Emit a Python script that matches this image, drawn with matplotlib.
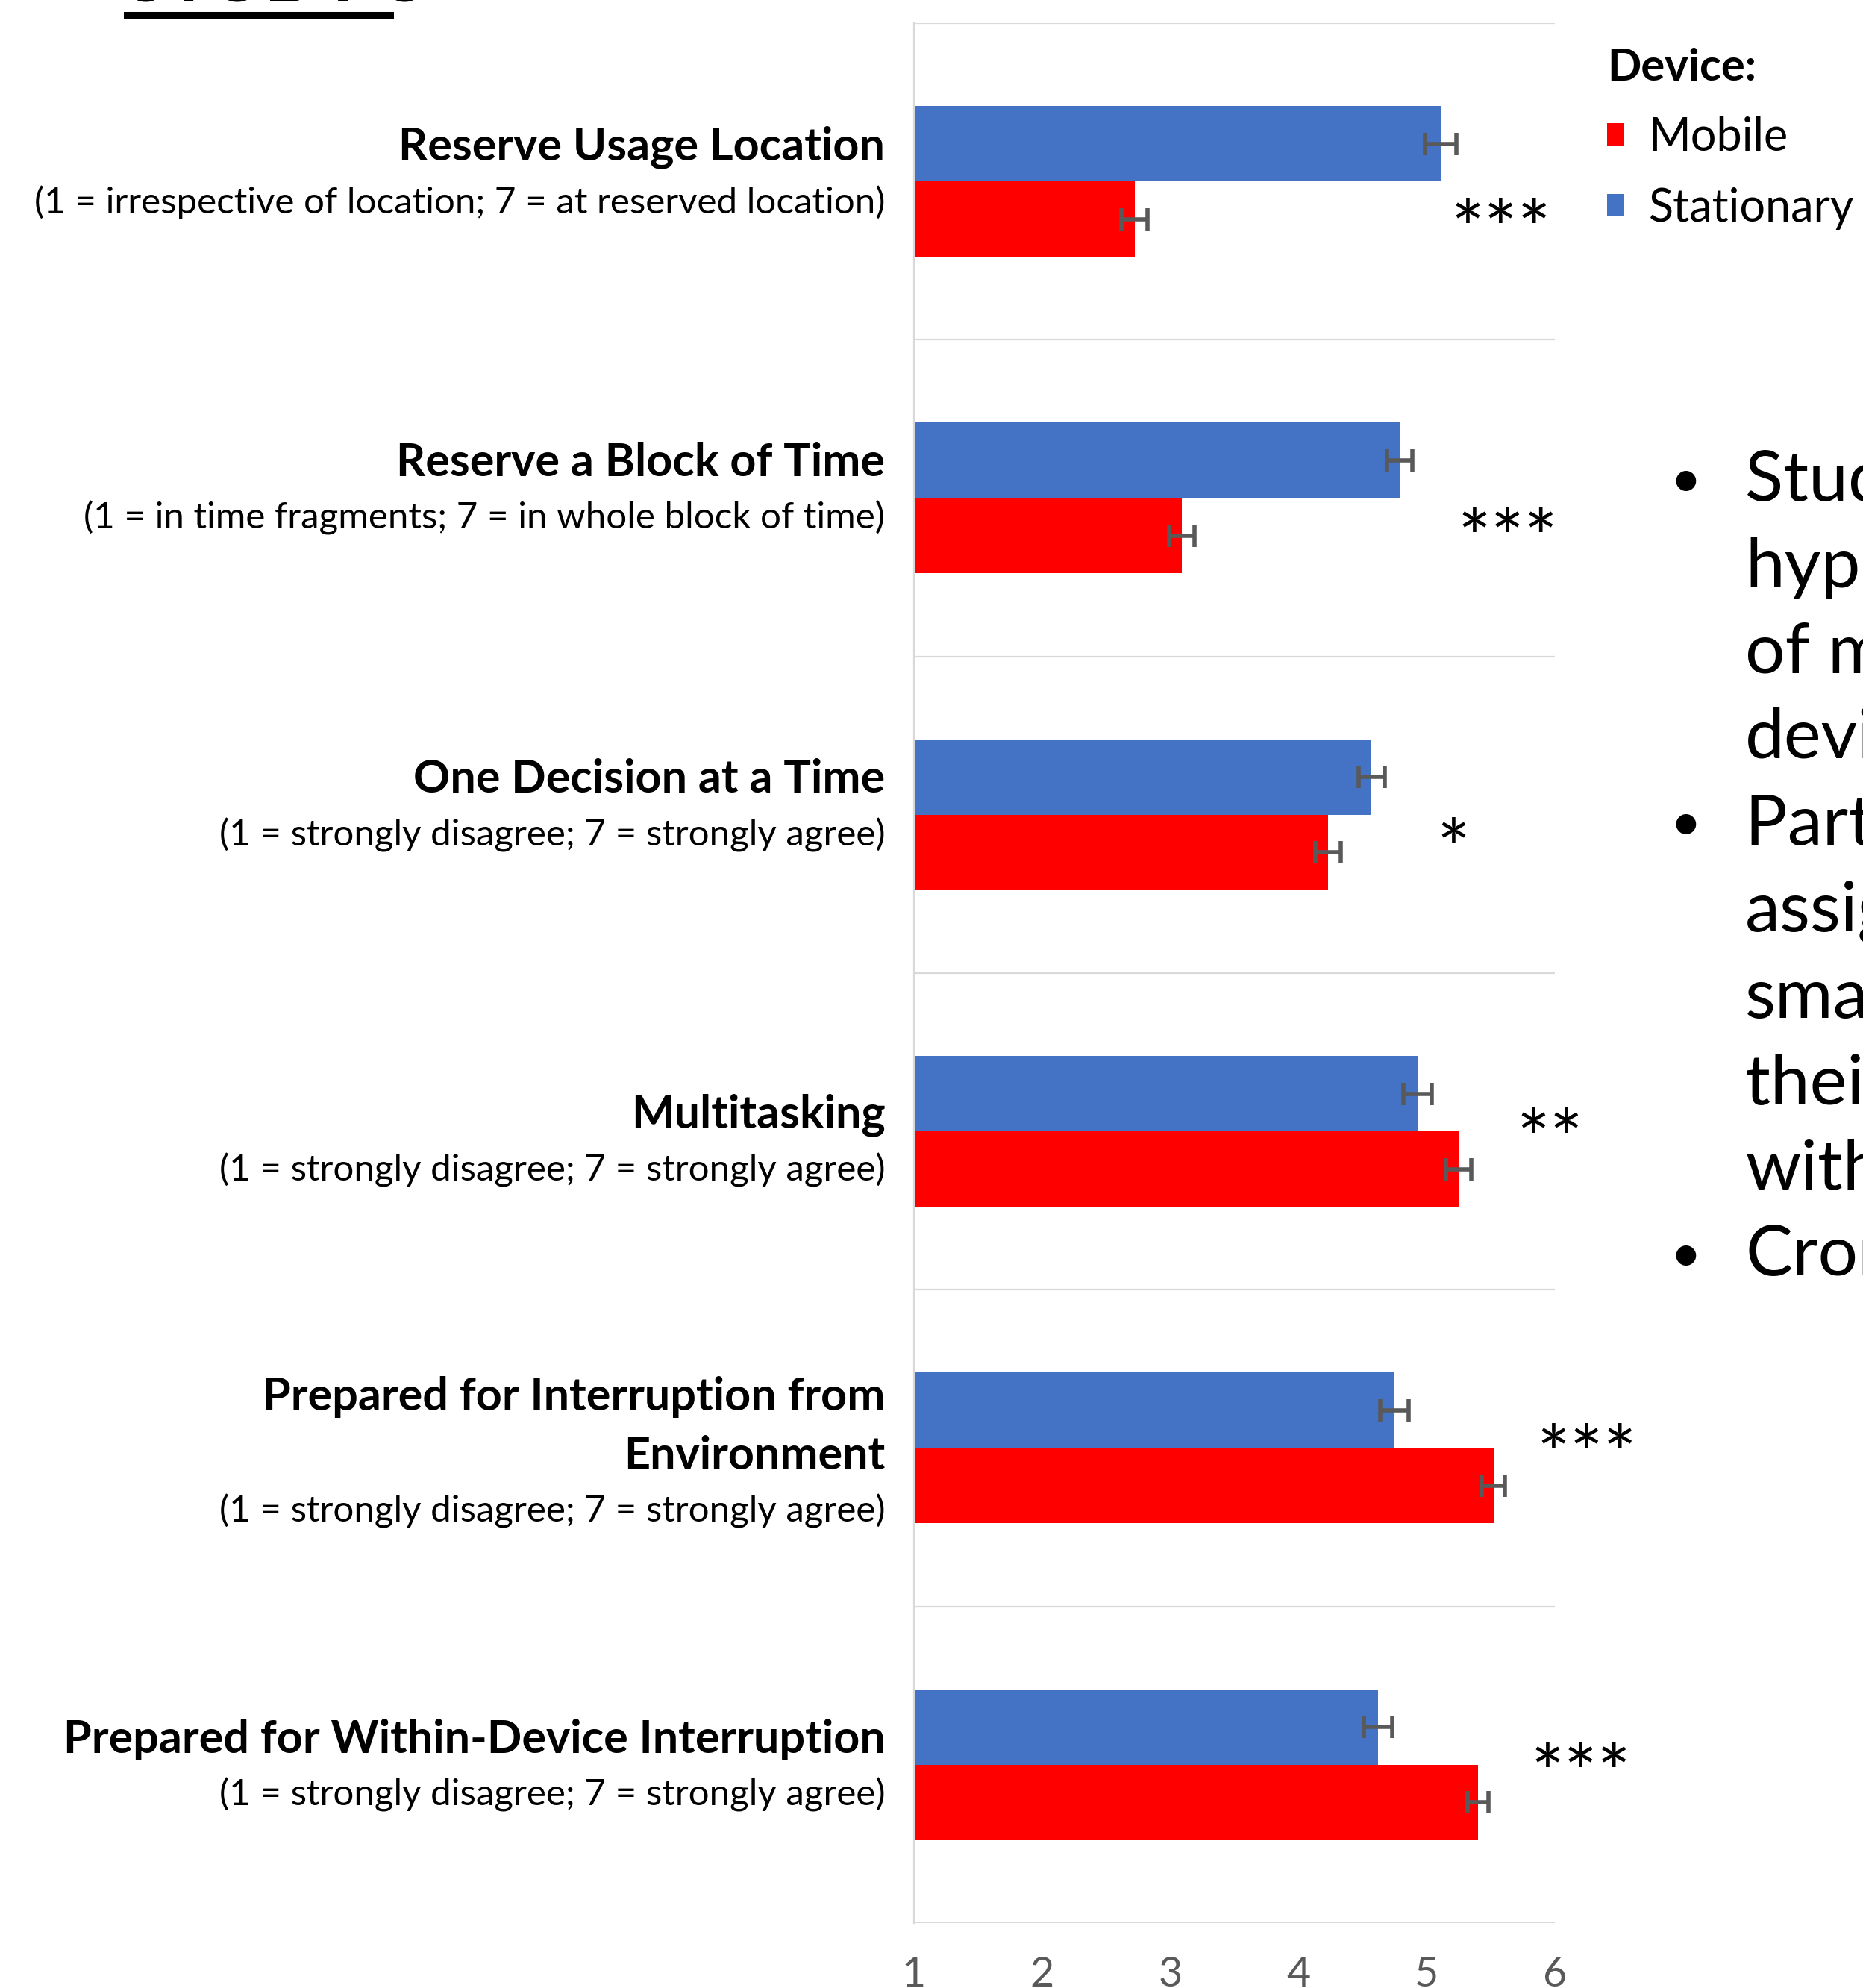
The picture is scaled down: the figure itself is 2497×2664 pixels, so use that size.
import numpy as np
import matplotlib.pyplot as plt
from matplotlib.lines import Line2D

plt.rcParams['font.family'] = ['Lato', 'DejaVu Sans']

# Data
titles = ['Reserve Usage Location', 'Reserve a Block of Time', 'One Decision at a Time',
          'Multitasking', 'Prepared for Interruption from\nEnvironment',
          'Prepared for Within-Device Interruption']
subtitles = ['(1 = irrespective of location; 7 = at reserved location)',
             '(1 = in time fragments; 7 = in whole block of time)',
             '(1 = strongly disagree; 7 = strongly agree)',
             '(1 = strongly disagree; 7 = strongly agree)',
             '(1 = strongly disagree; 7 = strongly agree)',
             '(1 = strongly disagree; 7 = strongly agree)']
mobile = [2.72, 3.09, 4.23, 5.25, 5.52, 5.40]
mobile_err = [0.10, 0.10, 0.10, 0.10, 0.09, 0.08]
stationary = [5.11, 4.79, 4.57, 4.93, 4.75, 4.62]
stationary_err = [0.12, 0.10, 0.10, 0.11, 0.11, 0.11]
stars = ['***', '***', '*', '**', '***', '***']
xticks = [1, 2, 3, 4, 5, 6]

# layout of the annotations
star_x = [5.19, 5.24, 5.08, 5.70, 5.86, 5.81]
star_dy = [0.17, 0.146, 0.126, 0.042, 0.038, 0.046]
label_dy = [-0.108, -0.112, -0.112, -0.052, -0.16, -0.08]

red = '#ff0000'
blue = '#4472c4'
grey = '#595959'

fig = plt.figure(figsize=(24.97, 26.64), dpi=100)
ax = fig.add_axes([0.4906, 0.0327, 0.344, 0.9557])

y = np.arange(len(titles))
h = 0.238
b_st = ax.barh(y - h / 2, np.array(stationary) - 1, left=1, height=h, color=blue)
b_mo = ax.barh(y + h / 2, np.array(mobile) - 1, left=1, height=h, color=red)
ax.errorbar(stationary, y - h / 2, xerr=stationary_err, fmt='none', ecolor=grey,
            elinewidth=4, capsize=11, capthick=4)
ax.errorbar(mobile, y + h / 2, xerr=mobile_err, fmt='none', ecolor=grey,
            elinewidth=4, capsize=11, capthick=4)

ax.set_xlim(1, 6)
ax.set_ylim(len(titles) - 0.5, -0.5)
ax.set_xticks(xticks)
ax.set_xticklabels([str(t) for t in xticks], fontsize=40, color=grey)
ax.tick_params(axis='x', length=0, pad=32)
ax.set_yticks([])
ax.set_yticks(np.arange(len(titles) + 1) - 0.5, minor=True)
ax.tick_params(axis='y', which='minor', length=0)
ax.grid(axis='y', which='minor', color='#d9d9d9', linewidth=1.6)
ax.set_axisbelow(True)
for s in ['top', 'right', 'bottom']:
    ax.spines[s].set_visible(False)
ax.spines['left'].set_color('#d9d9d9')
ax.spines['left'].set_linewidth(1.6)

# category labels
trans = ax.get_yaxis_transform()
for i in range(len(titles)):
    yy = i + label_dy[i]
    for line in titles[i].split('\n'):
        ax.text(-0.045, yy, line, transform=trans, ha='right', va='center',
                fontsize=44, fontweight='bold')
        yy += 0.185
    ax.text(-0.045, yy - 0.01, subtitles[i], transform=trans, ha='right', va='center',
            fontsize=35.5)

# significance stars
for i, s in enumerate(stars):
    ax.text(star_x[i], i + star_dy[i], s, ha='left', va='center', fontsize=76)

# legend
ax.legend([b_mo, b_st], ['Mobile', 'Stationary'], title='Device:', alignment='left',
          loc='upper left', bbox_to_anchor=(1.046, 0.999), frameon=False, borderpad=0,
          fontsize=44, title_fontproperties={'weight': 'bold', 'size': 43},
          handlelength=0.36, handleheight=0.36, handletextpad=0.55, labelspacing=0.62)

# slide title cut at the top
fig.text(0.068, 0.9995, 'STUDY 3', fontsize=70, fontweight='bold', ha='left', va='baseline')
fig.add_artist(Line2D([0.068, 0.2095], [0.9924, 0.9924], color='black', linewidth=6.5))

# slide bullet text cut at the right edge
bullets = ['Study 3 tested the', 'hypothesis', 'of mobile', 'devices', 'Participants were',
           'assigned', 'smartphones', 'their', 'within', 'Cronbach']
bullet_start = [True, False, False, False, True, False, False, False, False, True]
line_y = [645, 761, 876, 990, 1106, 1223, 1338, 1454, 1568, 1683]
for txt, start, py in zip(bullets, bullet_start, line_y):
    fy = 1 - py / 2664
    fig.text(2339 / 2497, fy, txt, fontsize=68, ha='left', va='center')
    if start:
        fig.text(2259 / 2497, fy, '\u2022', fontsize=52, ha='center', va='center')

fig.savefig('out.png', dpi=100)
